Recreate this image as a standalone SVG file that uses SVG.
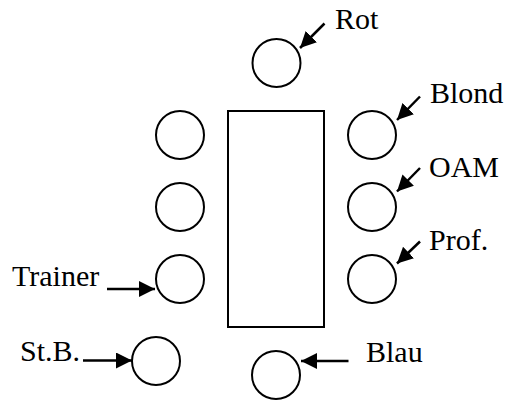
<svg xmlns="http://www.w3.org/2000/svg" width="507" height="400" viewBox="0 0 507 400">
<style>
.seat{fill:none;stroke:#000;stroke-width:2}
.table{fill:none;stroke:#000;stroke-width:2}
.lbl{font-family:"Liberation Serif","Times New Roman",serif;font-size:30px;fill:#000}
.arr{stroke:#000;stroke-width:2.5;fill:none;marker-end:url(#ah)}
</style>
<defs>
<marker id="ah" markerUnits="userSpaceOnUse" markerWidth="17" markerHeight="17" refX="16" refY="8" orient="auto">
<path d="M0,0 L16,8 L0,16 z" fill="#000"/>
</marker>
</defs>
<rect x="0" y="0" width="507" height="400" fill="#fff"/>
<g id="table"><rect class="table" x="228" y="111" width="96" height="216"/></g>
<g id="seat-rot"><circle class="seat" cx="276.5" cy="63" r="24"/><text class="lbl" x="335" y="29">Rot</text></g>
<g id="seat-l1"><circle class="seat" cx="180" cy="135" r="24"/></g>
<g id="seat-l2"><circle class="seat" cx="180" cy="207" r="24"/></g>
<g id="seat-trainer"><circle class="seat" cx="180" cy="279" r="24"/><text class="lbl" x="12" y="286">Trainer</text></g>
<g id="seat-blond"><circle class="seat" cx="372" cy="135" r="24"/><text class="lbl" x="430" y="103">Blond</text></g>
<g id="seat-oam"><circle class="seat" cx="372" cy="207" r="24"/><text class="lbl" x="429" y="177">OAM</text></g>
<g id="seat-prof"><circle class="seat" cx="372" cy="279" r="24"/><text class="lbl" x="429" y="250">Prof.</text></g>
<g id="seat-stb"><circle class="seat" cx="156" cy="361" r="24"/><text class="lbl" x="20" y="361">St.B.</text></g>
<g id="seat-blau"><circle class="seat" cx="276" cy="375" r="24"/><text class="lbl" x="366" y="362">Blau</text></g>
<g id="connectors">
<line class="arr" x1="324.5" y1="23.5" x2="300" y2="48"/>
<line class="arr" x1="420" y1="96.5" x2="397" y2="120"/>
<line class="arr" x1="420" y1="168" x2="397" y2="191.5"/>
<line class="arr" x1="420" y1="241.5" x2="397" y2="263.5"/>
<line class="arr" x1="107" y1="289" x2="155" y2="289"/>
<line class="arr" x1="83" y1="360.5" x2="132" y2="360.5"/>
<line class="arr" x1="348.5" y1="361" x2="301" y2="361"/>
</g>
</svg>
